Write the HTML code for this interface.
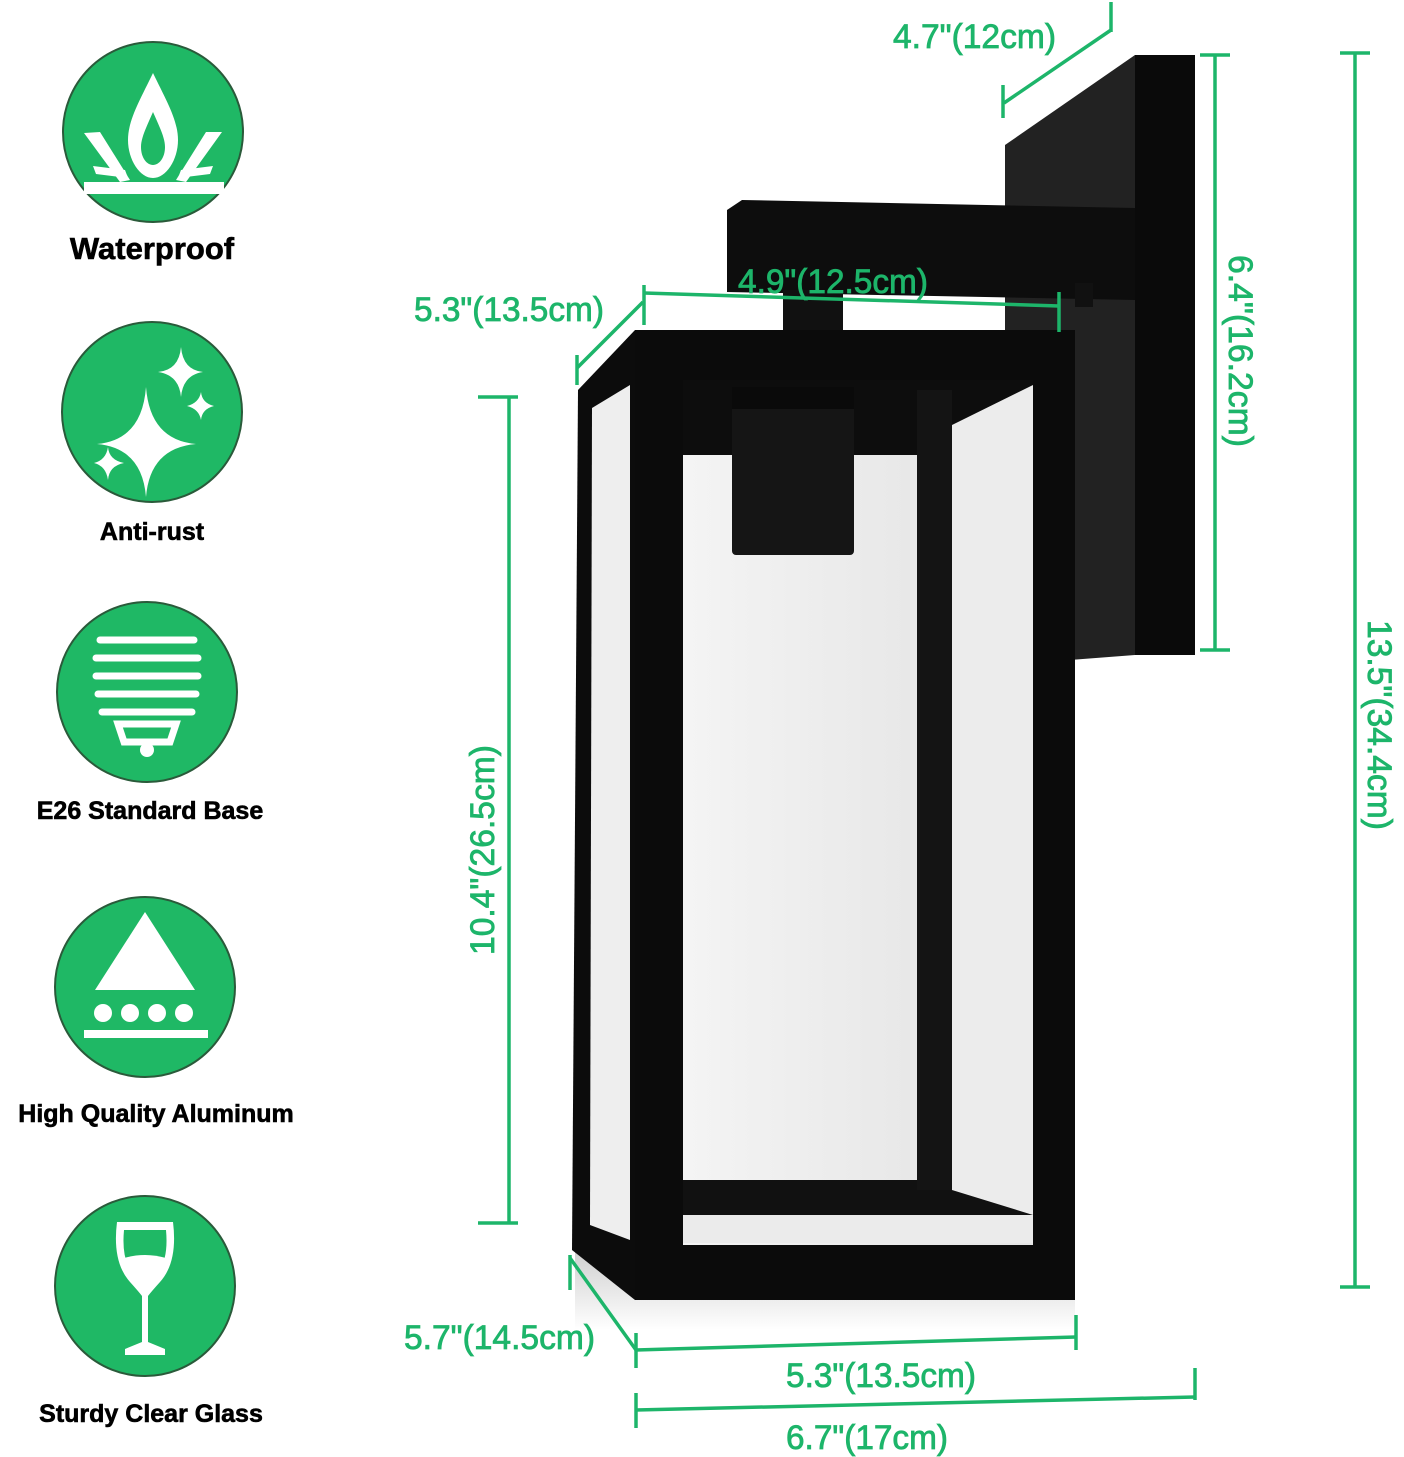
<!DOCTYPE html>
<html><head><meta charset="utf-8"><style>
html,body{margin:0;padding:0;background:#fff;}
svg{display:block;}
</style></head><body>
<svg width="1404" height="1457" viewBox="0 0 1404 1457" xmlns="http://www.w3.org/2000/svg">
<defs>
<linearGradient id="gl" x1="0" x2="1" y1="0" y2="0"><stop offset="0" stop-color="#f4f4f4"/><stop offset="1" stop-color="#e6e6e6"/></linearGradient>
<linearGradient id="sh" x1="0" x2="0" y1="0" y2="1"><stop offset="0" stop-color="#cfcfcf"/><stop offset="1" stop-color="#fff"/></linearGradient>
</defs>
<g fill="#1fb865">
<circle cx="153" cy="132" r="90" stroke="#2a5a3a" stroke-width="2"/>
<circle cx="152" cy="412" r="90" stroke="#2a5a3a" stroke-width="2"/>
<circle cx="147" cy="692" r="90" stroke="#2a5a3a" stroke-width="2"/>
<circle cx="145" cy="987" r="90" stroke="#2a5a3a" stroke-width="2"/>
<circle cx="145" cy="1286" r="90" stroke="#2a5a3a" stroke-width="2"/>
</g>
<g fill="#fff">
<path d="M153 73 C140 100 128 120 128 140 C128 160 140 178 153 178 C166 178 178 160 178 140 C178 120 166 100 153 73 Z M153 112 C146 128 141 138 141 147 C141 158 147 165 153 165 C159 165 165 158 165 147 C165 138 160 128 153 112Z" fill-rule="evenodd"/>
<polygon points="84,133 100,132 130,180 120,182"/>
<polygon points="222,132 206,132 176,180 186,182"/>
<polygon points="93,166 125,170 128,178 96,174"/>
<polygon points="213,166 181,170 178,178 210,174"/>
<rect x="84" y="182" width="140" height="12"/>
<path d="M146 387 Q150 440 196 444 Q150 448 146 497 Q142 448 97 444 Q142 440 146 387Z"/>
<path d="M181 347 Q183 370 203 372 Q183 375 181 397 Q179 375 158 372 Q179 370 181 347Z"/>
<path d="M201 392 Q202 403 214 406 Q202 409 201 420 Q199 409 187 406 Q199 403 201 392Z"/>
<path d="M108 447 Q109 460 124 463 Q109 466 108 480 Q106 466 94 463 Q106 460 108 447Z"/>
<g fill="none" stroke="#fff" stroke-width="7" stroke-linecap="round">
<path d="M100 640 L194 640"/><path d="M96 658 L198 658"/><path d="M96 676 L198 676"/><path d="M98 694 L196 694"/><path d="M102 712 L192 712"/>
<path d="M118 724 L176 724 L170 742 L124 742Z"/>
</g>
<circle cx="147" cy="750" r="7"/>
<polygon points="145,912 95,990 195,990"/>
<circle cx="103" cy="1013" r="9"/><circle cx="130" cy="1013" r="9"/><circle cx="157" cy="1013" r="9"/><circle cx="184" cy="1013" r="9"/>
<rect x="84" y="1030" width="124" height="8"/>
<path d="M117 1222 L173 1222 Q178 1262 160 1282 Q151 1292 148 1296 L148 1342 L165 1349 L165 1355 L125 1355 L125 1349 L142 1342 L142 1296 Q139 1292 130 1282 Q112 1262 117 1222Z M124 1230 Q121 1262 135 1276 Q145 1287 155 1276 Q169 1262 166 1230Z" fill-rule="evenodd"/>
</g>
<path d="M124 1258 Q145 1252 166 1258 Q166 1268 155 1278 Q145 1287 135 1278 Q124 1268 124 1258Z" fill="#fff"/>
<g font-family="Liberation Sans, sans-serif" font-weight="bold" fill="#000" text-anchor="middle" stroke="#000" stroke-width="0.6">
<text x="152" y="259" font-size="31">Waterproof</text>
<text x="152" y="540" font-size="25">Anti-rust</text>
<text x="150" y="819" font-size="25">E26 Standard Base</text>
<text x="156" y="1122" font-size="25">High Quality Aluminum</text>
<text x="151" y="1422" font-size="25">Sturdy Clear Glass</text>
</g>
<rect x="575" y="1250" width="500" height="80" fill="url(#sh)"/>
<polygon points="1005,145 1135,55 1135,655 1005,665" fill="#222"/>
<rect x="1135" y="55" width="60" height="600" fill="#0a0a0a"/>
<rect x="1005" y="400" width="40" height="265" fill="#e8e8e8"/>
<polygon points="727,210 742,200 1135,208 1135,300 727,292" fill="#0d0d0d"/>
<rect x="783" y="290" width="60" height="48" fill="#111"/>
<rect x="1075" y="283" width="18" height="24" fill="#111"/>
<polygon points="578,390 635,330 635,1300 572,1250" fill="#0c0c0c"/>
<polygon points="592,408 630,385 630,1240 590,1225" fill="#eeeeee"/>
<rect x="635" y="330" width="440" height="970" fill="#0b0b0b"/>
<rect x="683" y="380" width="350" height="865" fill="url(#gl)"/>
<rect x="683" y="380" width="350" height="75" fill="#0d0d0d"/>
<rect x="683" y="1180" width="350" height="60" fill="#111"/>
<polygon points="683,455 950,455 950,1180 683,1180" fill="url(#gl)"/>
<rect x="917" y="390" width="35" height="800" fill="#141414"/>
<polygon points="952,425 1033,385 1033,1215 952,1190" fill="#ececec"/>
<rect x="683" y="1215" width="350" height="28" fill="#ebebeb"/>
<rect x="732" y="387" width="122" height="168" rx="4" fill="#151515"/>
<rect x="732" y="387" width="122" height="22" fill="#0a0a0a"/>
<g stroke="#1db56a" stroke-width="3.5" fill="none">
<line x1="1004" y1="103" x2="1111" y2="30"/><line x1="1003" y1="85" x2="1003" y2="118"/><line x1="1111" y1="2" x2="1111" y2="32"/>
<line x1="1215" y1="55" x2="1215" y2="650"/><line x1="1200" y1="55" x2="1230" y2="55"/><line x1="1200" y1="650" x2="1230" y2="650"/>
<line x1="1355" y1="53" x2="1355" y2="1287"/><line x1="1340" y1="53" x2="1370" y2="53"/><line x1="1340" y1="1287" x2="1370" y2="1287"/>
<line x1="644" y1="293" x2="1059" y2="306"/><line x1="644" y1="285" x2="644" y2="325"/><line x1="1059" y1="292" x2="1059" y2="332"/>
<line x1="577" y1="368" x2="643" y2="302"/><line x1="577" y1="355" x2="577" y2="385"/>
<line x1="509" y1="397" x2="509" y2="1223"/><line x1="478" y1="397" x2="518" y2="397"/><line x1="478" y1="1223" x2="518" y2="1223"/>
<line x1="570" y1="1258" x2="636" y2="1350"/><line x1="570" y1="1255" x2="570" y2="1290"/>
<line x1="636" y1="1350" x2="1076" y2="1337"/><line x1="636" y1="1333" x2="636" y2="1368"/><line x1="1076" y1="1315" x2="1076" y2="1350"/>
<line x1="636" y1="1410" x2="1195" y2="1397"/><line x1="636" y1="1393" x2="636" y2="1428"/><line x1="1195" y1="1368" x2="1195" y2="1400"/>
</g>
<g font-family="Liberation Sans, sans-serif" fill="#1db56a" font-size="34" stroke="#1db56a" stroke-width="0.8">
<text x="893" y="48" textLength="163" lengthAdjust="spacingAndGlyphs">4.7"(12cm)</text>
<text x="738" y="293" textLength="190" lengthAdjust="spacingAndGlyphs">4.9"(12.5cm)</text>
<text x="414" y="321" textLength="190" lengthAdjust="spacingAndGlyphs">5.3"(13.5cm)</text>
<text x="404" y="1349" textLength="191" lengthAdjust="spacingAndGlyphs">5.7"(14.5cm)</text>
<text x="786" y="1387" textLength="190" lengthAdjust="spacingAndGlyphs">5.3"(13.5cm)</text>
<text x="786" y="1449" textLength="162" lengthAdjust="spacingAndGlyphs">6.7"(17cm)</text>
<text transform="translate(1229,255) rotate(90)" textLength="192" lengthAdjust="spacingAndGlyphs">6.4"(16.2cm)</text>
<text transform="translate(1368,620) rotate(90)" textLength="210" lengthAdjust="spacingAndGlyphs">13.5"(34.4cm)</text>
<text transform="translate(494,955) rotate(-90)" textLength="210" lengthAdjust="spacingAndGlyphs">10.4"(26.5cm)</text>
</g>
</svg>
</body></html>
